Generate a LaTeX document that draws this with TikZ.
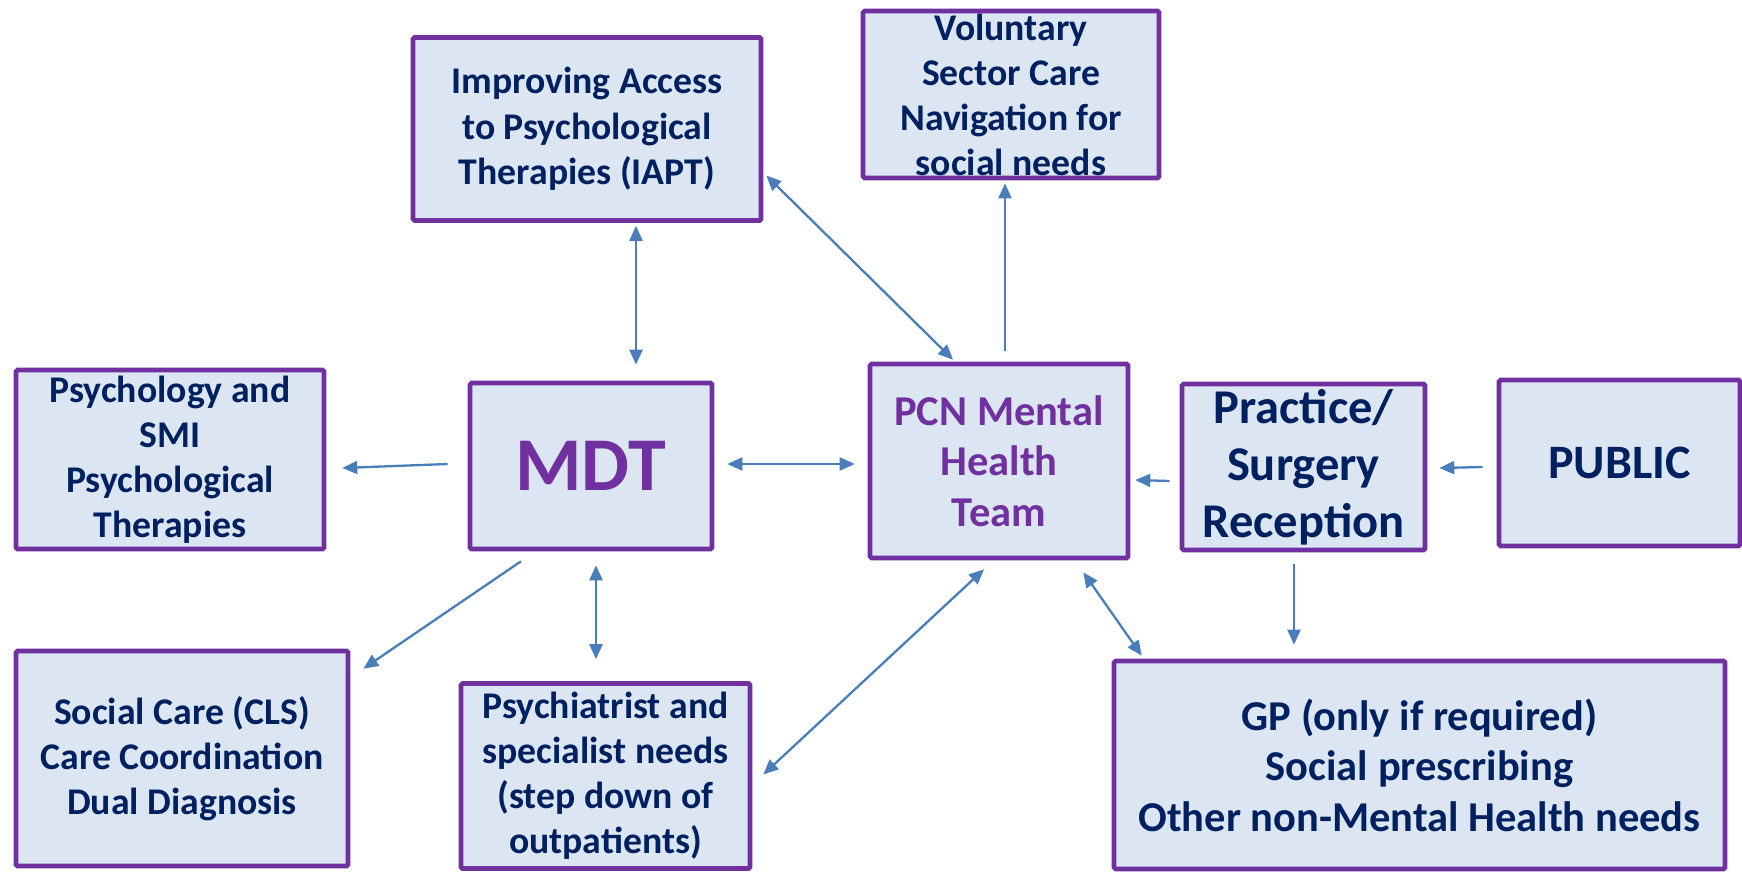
\documentclass[tikz,border=0pt]{standalone}
\usepackage{fontspec}
\setmainfont{Carlito}
\usetikzlibrary{arrows.meta,calc}
\definecolor{boxfill}{HTML}{DCE6F2}
\definecolor{boxline}{HTML}{7030A0}
\definecolor{navy}{HTML}{002060}
\definecolor{arrowblue}{HTML}{4A7EBB}
\tikzset{
  box/.style={draw=boxline, line width=4.6pt, fill=boxfill, rounded corners=1.5pt,
    align=center, text=navy, font=\bfseries\fontsize{37.7}{45}\selectfont, inner sep=0pt},
  purpletext/.style={text=boxline},
  arr/.style={draw=arrowblue, line width=2.3pt, -{Triangle[length=15pt,width=13pt]}},
  darr/.style={draw=arrowblue, line width=2.3pt, {Triangle[length=15pt,width=13pt]}-{Triangle[length=15pt,width=13pt]}},
}
\begin{document}
\begin{tikzpicture}[x=1pt,y=-1pt]
\useasboundingbox (0,0) rectangle (1742,872);
\node[box, minimum width=348pt, minimum height=183pt, font=\bfseries\fontsize{37.7}{45.5}\selectfont] (iapt) at (587,129)
  {Improving Access\\to Psychological\\Therapies (IAPT)};
\node[box, minimum width=296pt, minimum height=167pt] (vol) at (1011,94.5)
  {Voluntary\\Sector Care\\Navigation for\\social needs};
\node[box, minimum width=308pt, minimum height=179pt] (psy) at (170,459.5)
  {Psychology and\\SMI\\Psychological\\Therapies};
\node[box, purpletext, minimum width=242pt, minimum height=166pt, font=\bfseries\fontsize{76}{82}\selectfont] (mdt) at (591,466)
  {MDT};
\node[box, purpletext, minimum width=258pt, minimum height=194pt, font=\bfseries\fontsize{42.5}{50.5}\selectfont] (pcn) at (999,461)
  {PCN Mental\\Health\\Team};
\node[box, minimum width=243pt, minimum height=166pt, font=\bfseries\fontsize{48.5}{57}\selectfont] (prac) at (1303.5,467)
  {Practice/\\Surgery\\Reception};
\node[box, minimum width=241pt, minimum height=166pt, font=\bfseries\fontsize{48}{57}\selectfont] (pub) at (1619.5,463)
  {PUBLIC};
\node[box, minimum width=332pt, minimum height=215pt] (soc) at (182,758.5)
  {Social Care (CLS)\\Care Coordination\\Dual Diagnosis};
\node[box, minimum width=289pt, minimum height=185pt] (psych) at (605.5,776)
  {Psychiatrist and\\specialist needs\\(step down of\\outpatients)};
\node[box, minimum width=611pt, minimum height=208pt, font=\bfseries\fontsize{42.5}{50.5}\selectfont] (gp) at (1419.5,765)
  {GP (only if required)\\Social prescribing\\Other non-Mental Health needs};

\draw[darr] ($(iapt.south)+(49,3)$) -- ($(mdt.north)+(45,-16)$);
\draw[darr] ($(iapt.east)+(3,46.5)$) -- ($(pcn.north)+(-46,-2)$);
\draw[arr] ($(pcn.north)+(6,-11)$) -- ($(vol.south)+(-6,3)$);
\draw[arr] ($(mdt.west)+(-20,-2)$) -- ($(psy.east)+(16,8.5)$);
\draw[darr] ($(mdt.east)+(13,-2)$) -- ($(pcn.west)+(-13,3)$);
\draw[arr] ($(prac.west)+(-10,14)$) -- ($(pcn.east)+(5,19)$);
\draw[arr] ($(pub.west)+(-14,4)$) -- ($(prac.east)+(12,1)$);
\draw[arr] ($(mdt.south)+(-70,10)$) -- ($(soc.north east)+(13,20)$);
\draw[darr] ($(mdt.south)+(5,14)$) -- ($(psych.north)+(-9.5,-22)$);
\draw[darr] ($(pcn.south)+(-15,9)$) -- ($(psych.east)+(11,-1.5)$);
\draw[darr] ($(pcn.south east)+(-47,12)$) -- ($(gp.north west)+(30,-3)$);
\draw[arr] ($(prac.south)+(-9.5,12)$) -- ($(gp.north)+(-125.5,-14)$);
\end{tikzpicture}
\end{document}
